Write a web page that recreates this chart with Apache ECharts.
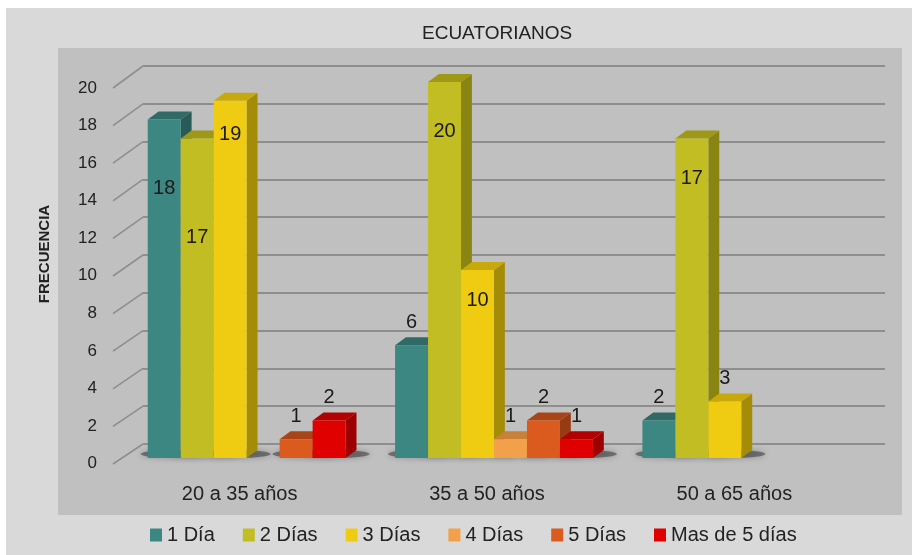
<!DOCTYPE html>
<html>
<head>
<meta charset="utf-8">
<script src="https://cdn.jsdelivr.net/npm/echarts@6/dist/echarts.min.js"></script>
<style>html,body{margin:0;padding:0;background:#fff}#c{width:912px;height:555px}</style>
</head>
<body>
<div id="c"></div>
<script>
// ---- data ----
const categories = ['20 a 35 años', '35 a 50 años', '50 a 65 años'];
const seriesNames = ['1 Día', '2 Días', '3 Días', '4 Días', '5 Días', 'Mas de 5 días'];
const dia1 = [18, 6, 2];
const dia2 = [17, 20, 17];
const dia3 = [19, 10, 3];
const dia4 = [0, 1, 0];
const dia5 = [1, 2, 0];
const mas5 = [2, 1, 0];
const yTicks = [0, 2, 4, 6, 8, 10, 12, 14, 16, 18, 20];

const seriesValues = [dia1, dia2, dia3, dia4, dia5, mas5];

// ---- styles ----
const FONT = 'Liberation Sans';
const frontColors = ['#3d8782', '#c2bd23', '#efcc12', '#f2a04a', '#db5b1f', '#e00000'];
const topColors   = ['#2f6a66', '#9d9816', '#c7a90b', '#c98139', '#a94417', '#b30000'];
const sideColors  = ['#285b58', '#8a8512', '#a58c08', '#b06f2e', '#963c14', '#9c0000'];
// label placement (pixel offset from bar top); default above the bar
const insideLabelOffset = {'0-0': 69, '1-0': 99, '2-0': 34, '1-1': 49, '2-1': 30, '1-2': 40};

const chart = echarts.init(document.getElementById('c'));

function barGeom(sIdx, api) {
  const c = api.value(0), v = api.value(1);
  const base = api.coord([c, 0]);
  const top = api.coord([c, v]);
  const bandW = api.size([1, 0])[0];
  const barW = bandW * 0.8 / 6;
  const x0 = base[0] - bandW * 0.4 + sIdx * barW;
  return {c: c, v: v, x0: x0, barW: barW, dx: barW * 0.33, dy: 8, yT: top[1], yB: base[1]};
}

function barRenderer(sIdx) {
  return function (params, api) {
    const g = barGeom(sIdx, api);
    if (!g.v) return null;
    const {x0, barW, dx, dy, yT, yB} = g;
    const key = sIdx + '-' + g.c;
    const off = insideLabelOffset[key] !== undefined ? insideLabelOffset[key] : -23;
    return {
      type: 'group',
      children: [
        {type: 'polygon', shape: {points: [[x0 + barW, yT], [x0 + barW + dx, yT - dy], [x0 + barW + dx, yB - dy], [x0 + barW, yB]]},
          style: {fill: sideColors[sIdx]}},
        {type: 'polygon', shape: {points: [[x0, yT], [x0 + dx, yT - dy], [x0 + barW + dx, yT - dy], [x0 + barW, yT]]},
          style: {fill: topColors[sIdx]}},
        {type: 'rect', shape: {x: x0, y: yT, width: barW, height: yB - yT},
          style: {fill: frontColors[sIdx]}},
        {type: 'text', x: x0 + barW / 2, y: yT + off, z2: 10,
          style: {text: String(g.v), fontSize: 20, fontFamily: FONT, fill: '#1a1a1a', align: 'center', verticalAlign: 'middle'}}
      ]
    };
  };
}

function shadowRenderer(sIdx) {
  return function (params, api) {
    const g = barGeom(sIdx, api);
    if (!g.v) return null;
    return {type: 'ellipse',
      shape: {cx: g.x0 + (g.barW + g.dx) / 2 + 3, cy: g.yB - 4, rx: (g.barW + g.dx) / 2 + 10, ry: 4},
      style: {fill: 'rgba(30,30,30,0.45)', shadowBlur: 6, shadowColor: 'rgba(0,0,0,0.6)'}};
  };
}

const barSeries = seriesNames.map((name, i) => ({
  name: name,
  type: 'custom',
  xAxisIndex: 0,
  yAxisIndex: 0,
  renderItem: barRenderer(i),
  itemStyle: {color: frontColors[i]},
  data: seriesValues[i].map((v, c) => [c, v]),
  z: 5
}));

const shadowSeries = seriesNames.map((name, i) => ({
  type: 'custom',
  xAxisIndex: 0,
  yAxisIndex: 0,
  silent: true,
  renderItem: shadowRenderer(i),
  data: seriesValues[i].map((v, c) => [c, v]),
  z: 3
}));

const diagonalSeries = {
  type: 'custom',
  xAxisIndex: 1,
  yAxisIndex: 1,
  silent: true,
  renderItem: function (params, api) {
    const v = api.value(0);
    const p = api.coord([0, v]);
    return {type: 'line', shape: {x1: p[0] - 30, y1: p[1] + 20 + v * 0.1, x2: p[0], y2: p[1]},
      style: {stroke: '#8e8e8e', lineWidth: 1.6}};
  },
  data: yTicks.map(v => [v]),
  z: 1
};

const option = {
  animation: false,
  backgroundColor: '#ffffff',
  textStyle: {fontFamily: FONT},
  title: {
    text: 'ECUATORIANOS', left: 422, top: 24, padding: 0,
    textStyle: {fontSize: 19, fontWeight: 'normal', color: '#222', fontFamily: FONT}
  },
  legend: {
    data: seriesNames, left: 145, top: 520, icon: 'rect',
    itemWidth: 12, itemHeight: 13, itemGap: 28,
    textStyle: {fontSize: 20, color: '#222', fontFamily: FONT}
  },
  graphic: {elements: [
    {type: 'rect', z: -20, silent: true, shape: {x: 6, y: 8, width: 906, height: 547}, style: {fill: '#d9d9d9'}},
    {type: 'rect', z: -19, silent: true, shape: {x: 58, y: 48, width: 844, height: 467}, style: {fill: '#c0c0c0'}},
    {type: 'text', x: 45, y: 254, rotation: Math.PI / 2, silent: true,
      style: {text: 'FRECUENCIA', fontSize: 15, fontWeight: 'bold', fontFamily: FONT, fill: '#222', align: 'center', verticalAlign: 'middle'}}
  ]},
  grid: [
    {left: 123, right: 47, top: 82, bottom: 97},
    {left: 143, right: 27, top: 66, bottom: 111},
    {left: 113, right: 27, top: 88, bottom: 91.5}
  ],
  xAxis: [
    {gridIndex: 0, type: 'category', data: categories,
      axisLine: {show: false}, axisTick: {show: false},
      axisLabel: {fontSize: 20, color: '#222', margin: 26, padding: [0, 14, 0, 0], fontFamily: FONT}},
    {gridIndex: 1, type: 'value', min: 0, max: 1, show: false},
    {gridIndex: 2, type: 'value', min: 0, max: 1, show: false}
  ],
  yAxis: [
    {gridIndex: 0, type: 'value', min: 0, max: 20, interval: 2, show: false},
    {gridIndex: 1, type: 'value', min: 0, max: 20, interval: 2,
      axisLine: {show: false}, axisTick: {show: false}, axisLabel: {show: false},
      splitLine: {show: true, lineStyle: {color: '#8e8e8e', width: 2}}},
    {gridIndex: 2, type: 'value', min: 0, max: 20, interval: 2,
      axisLine: {show: false}, axisTick: {show: false}, splitLine: {show: false},
      axisLabel: {fontSize: 17, color: '#222', margin: 16, fontFamily: FONT}}
  ],
  series: [diagonalSeries].concat(shadowSeries, barSeries)
};
chart.setOption(option);
</script>
</body>
</html>
